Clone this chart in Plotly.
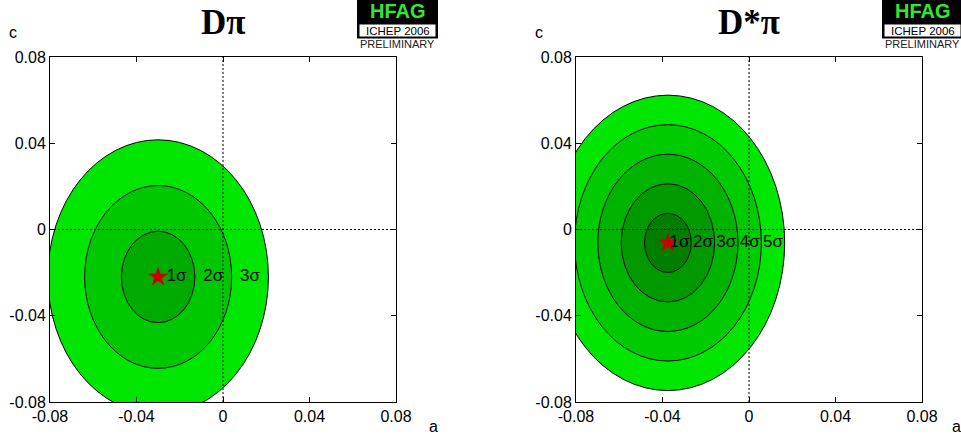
import plotly.graph_objects as go

W, H = 961, 438

# ---------------- data ----------------
titles = ["D\u03c0", "D*\u03c0"]
center_a = [-0.030, -0.0375]
center_c = [-0.022, -0.0062]
sigma_a = [0.0170, 0.0108]
sigma_c = [0.0212, 0.0137]
n_sigma = [3, 5]
fill_colors = [
    ["#00ab00", "#00c800", "#00e600"],
    ["#007e00", "#009a00", "#00b300", "#00cb00", "#00e600"],
]
sigma_labels = ["1\u03c3", "2\u03c3", "3\u03c3", "4\u03c3", "5\u03c3"]
tick_vals = [-0.08, -0.04, 0, 0.04, 0.08]
tick_text = ["-0.08", "-0.04", "0", "0.04", "0.08"]
axis_range = [-0.08, 0.08]

# ---------------- layout helpers ----------------
def px(x):
    return x / W

def py(y):
    return 1 - y / H

x_domains = [[px(50), px(396)], [px(576), px(922)]]
y_domain = [py(402), py(57)]
FONT = "Liberation Sans, Arial, sans-serif"

fig = go.Figure()
shapes = []
annotations = []

for i in range(2):
    xa = "x" if i == 0 else "x2"
    ya = "y" if i == 0 else "y2"
    ca, cc, sa, sc, n = center_a[i], center_c[i], sigma_a[i], sigma_c[i], n_sigma[i]
    # contour regions from outermost to innermost
    for k in range(n, 0, -1):
        shapes.append(dict(
            type="circle", xref=xa, yref=ya,
            x0=ca - k * sa, x1=ca + k * sa, y0=cc - k * sc, y1=cc + k * sc,
            fillcolor=fill_colors[i][k - 1], line=dict(color="black", width=1),
            layer="below"))
    # dotted zero lines (on top of the contours)
    shapes.append(dict(type="line", xref=xa, yref=ya, x0=0, x1=0,
                       y0=axis_range[0], y1=axis_range[1],
                       line=dict(color="black", width=1, dash="2px,2px"), layer="below"))
    shapes.append(dict(type="line", xref=xa, yref=ya, x0=axis_range[0], x1=axis_range[1],
                       y0=0, y1=0,
                       line=dict(color="black", width=1, dash="2px,2px"), layer="below"))
    # best-fit star
    fig.add_trace(go.Scatter(
        x=[ca], y=[cc], mode="markers", xaxis=xa, yaxis=ya,
        marker=dict(symbol="star", size=15, color="#cc0000", line=dict(width=0)),
        hoverinfo="skip"))
    # sigma labels
    fig.add_trace(go.Scatter(
        x=[ca + (k - 0.5) * sa for k in range(1, n + 1)], y=[cc] * n,
        mode="text", text=sigma_labels[:n], textposition="middle center",
        textfont=dict(family=FONT, size=17, color="black"),
        xaxis=xa, yaxis=ya, hoverinfo="skip", cliponaxis=False))

    xc = (x_domains[i][0] + x_domains[i][1]) / 2
    # title
    annotations.append(dict(text="<b>" + titles[i] + "</b>", x=xc, y=py(22),
                            xref="paper", yref="paper", showarrow=False,
                            font=dict(family="Liberation Serif, Times New Roman, serif", size=35, color="black"),
                            xanchor="center", yanchor="middle"))
    # axis names
    cx = [12.5, 538.5][i]
    annotations.append(dict(text="c", x=px(cx), y=py(33), xref="paper", yref="paper",
                            showarrow=False, font=dict(family=FONT, size=16, color="black"),
                            xanchor="center", yanchor="middle"))
    ax_ = [433, 956][i]
    annotations.append(dict(text="a", x=px(ax_), y=py(426), xref="paper", yref="paper",
                            showarrow=False, font=dict(family=FONT, size=16, color="black"),
                            xanchor="center", yanchor="middle"))
    # HFAG logo
    lx0 = [357, 882][i]
    lx1 = lx0 + 81
    shapes.append(dict(type="rect", xref="paper", yref="paper", x0=px(lx0), x1=px(lx1),
                       y0=py(38.5), y1=py(0), fillcolor="black", line=dict(width=0), layer="above"))
    shapes.append(dict(type="rect", xref="paper", yref="paper", x0=px(lx0 + 2.5), x1=px(lx1 - 2.5),
                       y0=py(36.5), y1=py(24.5), fillcolor="white", line=dict(width=0), layer="above"))
    lc = px((lx0 + lx1) / 2)
    annotations.append(dict(text="<b>HFAG</b>", x=lc, y=py(11.5), xref="paper", yref="paper",
                            showarrow=False, font=dict(family=FONT, size=20, color="#33e633"),
                            xanchor="center", yanchor="middle"))
    annotations.append(dict(text="ICHEP 2006", x=lc, y=py(31), xref="paper", yref="paper",
                            showarrow=False, font=dict(family=FONT, size=11.5, color="black"),
                            xanchor="center", yanchor="middle"))
    annotations.append(dict(text="PRELIMINARY", x=lc, y=py(44), xref="paper", yref="paper",
                            showarrow=False, font=dict(family=FONT, size=11, color="#222222"),
                            xanchor="center", yanchor="middle"))

axis_common = dict(
    range=axis_range, tickvals=tick_vals, ticktext=tick_text,
    ticks="inside", ticklen=5, tickwidth=1, tickcolor="black",
    showline=True, linecolor="black", linewidth=1, mirror="ticks",
    showgrid=False, zeroline=False, fixedrange=True, automargin=False,
    tickfont=dict(family=FONT, size=16, color="black"),
)

fig.update_layout(
    width=W, height=H,
    margin=dict(l=0, r=0, t=0, b=0, autoexpand=False),
    paper_bgcolor="white", plot_bgcolor="white",
    showlegend=False,
    xaxis=dict(domain=x_domains[0], anchor="y", **axis_common),
    yaxis=dict(domain=y_domain, anchor="x", **axis_common),
    xaxis2=dict(domain=x_domains[1], anchor="y2", **axis_common),
    yaxis2=dict(domain=y_domain, anchor="x2", **axis_common),
    shapes=shapes,
    annotations=annotations,
)

fig.write_html(
    "out.html",
    config={"displayModeBar": False},
    post_script="document.body.style.margin='0';document.body.style.overflow='hidden';",
)
